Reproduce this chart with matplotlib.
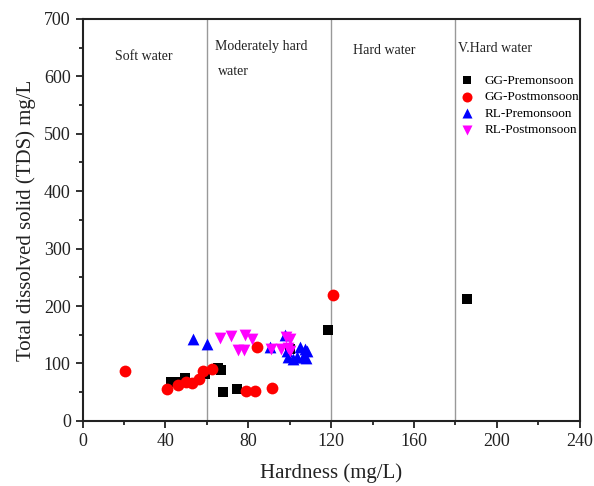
import matplotlib
matplotlib.use("Agg")
import matplotlib.pyplot as plt
from matplotlib.ticker import MultipleLocator

plt.rcParams['font.family'] = ['Liberation Serif', 'DejaVu Serif']

gg_pre_x = [42.5, 44.5, 49.5, 59, 65.5, 67, 68, 74.5, 100, 118.3, 185.5]
gg_pre_y = [67, 68, 75, 81, 92, 89, 50, 56, 125, 158, 212]

gg_post_x = [20.7, 40.8, 46.3, 49.8, 52.8, 56, 57.9, 62.7, 79, 83.3, 84.4, 91.6, 120.9]
gg_post_y = [87, 56, 62, 68, 66, 73, 86, 91, 52, 52, 128, 57, 219]

rl_pre_x = [53.5, 60, 90.5, 97.5, 98.5, 99, 101.5, 103.5, 105, 106.5, 107.5, 108.5, 108]
rl_pre_y = [143, 134, 128, 150, 121, 111, 108, 112, 128, 112, 126, 121, 110]

rl_post_x = [66.5, 71.5, 78.5, 82, 75, 78, 91, 96, 98, 100, 99, 100]
rl_post_y = [145, 147, 150, 142, 123, 124, 125, 125, 146, 143, 127, 121]

boundaries = [60, 120, 180]
zone_labels = ["Soft water", "Moderately hard", "water", "Hard water", "V.Hard water"]

fig = plt.figure(figsize=(5.94, 4.86), dpi=100)
ax = fig.add_axes([0.139, 0.134, 0.837, 0.827])

for b in boundaries:
    ax.axvline(b, color='#999999', lw=1.0, zorder=1)

ax.scatter(gg_pre_x, gg_pre_y, marker='s', s=48, color='black', label='GG-Premonsoon', zorder=3, linewidths=0)
ax.scatter(gg_post_x, gg_post_y, marker='o', s=72, color='#ff0000', label='GG-Postmonsoon', zorder=3, linewidths=0)
ax.scatter(rl_pre_x, rl_pre_y, marker='^', s=72, color='#0000ff', label='RL-Premonsoon', zorder=3, linewidths=0)
ax.scatter(rl_post_x, rl_post_y, marker='v', s=72, color='#ff00ff', label='RL-Postmonsoon', zorder=3, linewidths=0)

tc = '#222222'
ax.text(15.5, 634, zone_labels[0], fontsize=10, va='center', ha='left', color=tc)
ax.text(64.0, 652.5, zone_labels[1], fontsize=10, va='center', ha='left', color=tc)
ax.text(65.5, 608, zone_labels[2], fontsize=10, va='center', ha='left', color=tc)
ax.text(130.5, 645.5, zone_labels[3], fontsize=10, va='center', ha='left', color=tc)
ax.text(181.3, 649, zone_labels[4], fontsize=10, va='center', ha='left', color=tc)

ax.set_xlim(0, 240)
ax.set_ylim(0, 700)
ax.xaxis.set_major_locator(MultipleLocator(40))
ax.xaxis.set_minor_locator(MultipleLocator(20))
ax.yaxis.set_major_locator(MultipleLocator(100))
ax.yaxis.set_minor_locator(MultipleLocator(50))
ax.tick_params(axis='both', which='major', direction='out', length=5, width=1.3, labelsize=13, colors=tc)
ax.tick_params(axis='both', which='minor', direction='out', length=3, width=1.3, colors=tc)
for s in ax.spines.values():
    s.set_linewidth(1.5)
    s.set_color(tc)

ax.set_xlabel('Hardness (mg/L)', fontsize=15, labelpad=10, color=tc)
ax.set_ylabel('Total dissolved solid (TDS) mg/L', fontsize=15, labelpad=6, color=tc)

ax.legend(loc='upper left', bbox_to_anchor=(0.741, 0.885), frameon=False, fontsize=9.5,
          handletextpad=0.85, handlelength=1.0, labelspacing=0.32, markerscale=0.85, borderpad=0.2)

fig.savefig('out.png', dpi=100)
